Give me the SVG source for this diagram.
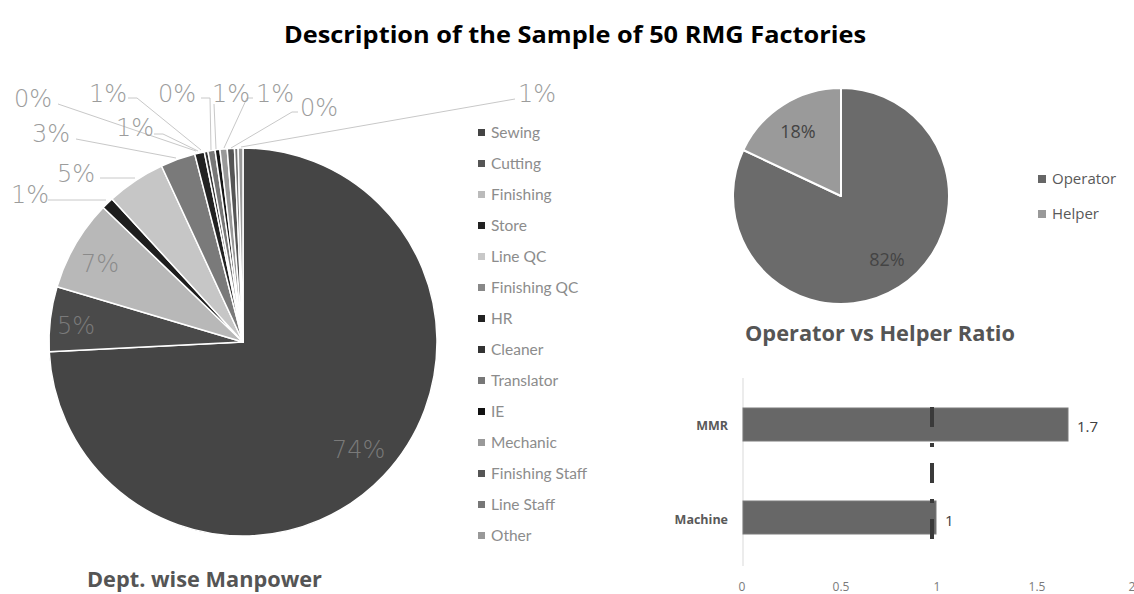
<svg xmlns="http://www.w3.org/2000/svg" width="1134" height="594" viewBox="0 0 1134 594">
<style>
.title{font-family:"Open Sans","Noto Sans",sans-serif;font-weight:700;}
.sl{stroke:#fff;stroke-width:1.5;stroke-linejoin:round;}
.pl{font-family:"DejaVu Sans","Liberation Sans",sans-serif;font-weight:200;font-size:24px;fill:#9c9c9c;}
.lead{fill:none;stroke:#c8c8c8;stroke-width:1;}
.lg{font-family:Lato,"Liberation Sans",sans-serif;font-size:15.5px;fill:#8c8c8c;}
.lg2{font-family:"Open Sans","Noto Sans",sans-serif;font-size:15px;fill:#595959;}
.ax{font-family:"Open Sans","Noto Sans",sans-serif;font-size:12px;fill:#7a7a7a;text-anchor:middle;}
.cat{font-family:"Open Sans","Noto Sans",sans-serif;font-size:12.5px;font-weight:700;fill:#595959;text-anchor:end;}
.val{font-family:"Open Sans","Noto Sans",sans-serif;font-size:15px;fill:#404040;}
</style>
<rect width="1134" height="594" fill="#fff"/>
<text class="title" x="284" y="43" font-size="23" fill="#000" textLength="582" lengthAdjust="spacingAndGlyphs">Description of the Sample of 50 RMG Factories</text>

<g id="dept-pie">
<path class="sl" fill="#454545" d="M243,342 L243,148 A194,194 0 1 1 49.24,351.75 Z"/>
<path class="sl" fill="#4a4a4a" d="M243,342 L49.24,351.75 A194,194 0 0 1 57.05,286.71 Z"/>
<path class="sl" fill="#b8b8b8" d="M243,342 L57.05,286.71 A194,194 0 0 1 103.21,207.48 Z"/>
<path class="sl" fill="#1e1e1e" d="M243,342 L103.21,207.48 A194,194 0 0 1 112.01,198.90 Z"/>
<path class="sl" fill="#c6c6c6" d="M243,342 L112.01,198.90 A194,194 0 0 1 161.50,165.95 Z"/>
<path class="sl" fill="#7a7a7a" d="M243,342 L161.50,165.95 A194,194 0 0 1 194.75,154.10 Z"/>
<path class="sl" fill="#222" d="M243,342 L194.75,154.10 A194,194 0 0 1 204.26,151.91 Z"/>
<path class="sl" fill="#333" d="M243,342 L204.26,151.91 A194,194 0 0 1 207.85,151.21 Z"/>
<path class="sl" fill="#777" d="M243,342 L207.85,151.21 A194,194 0 0 1 215.06,150.02 Z"/>
<path class="sl" fill="#151515" d="M243,342 L215.06,150.02 A194,194 0 0 1 219.89,149.38 Z"/>
<path class="sl" fill="#999" d="M243,342 L219.89,149.38 A194,194 0 0 1 227.17,148.65 Z"/>
<path class="sl" fill="#555" d="M243,342 L227.17,148.65 A194,194 0 0 1 234.47,148.19 Z"/>
<path class="sl" fill="#777" d="M243,342 L234.47,148.19 A194,194 0 0 1 238.12,148.06 Z"/>
<path class="sl" fill="#999" d="M243,342 L238.12,148.06 A194,194 0 0 1 243,148 Z"/>
</g>

<g id="connectors">
<polyline class="lead" points="58,104 196,151"/>
<polyline class="lead" points="128,98 137,98 201,150"/>
<polyline class="lead" points="154,134 163,134 198,151"/>
<polyline class="lead" points="76,139 176,158"/>
<polyline class="lead" points="100,178 135,178"/>
<polyline class="lead" points="48,200 106,200"/>
<polyline class="lead" points="201,98 210,98 211,150"/>
<polyline class="lead" points="214,104 216,149"/>
<polyline class="lead" points="253,98 247,98 224,148"/>
<polyline class="lead" points="298,112 292,112 231,148"/>
<polyline class="lead" points="515,99 241,147"/>
</g>

<g id="dept-labels">
<text class="pl" x="14" y="107">0%</text>
<text class="pl" x="89" y="102">1%</text>
<text class="pl" x="158" y="102">0%</text>
<text class="pl" x="212" y="102">1%</text>
<text class="pl" x="256" y="102">1%</text>
<text class="pl" x="300" y="116">0%</text>
<text class="pl" x="518" y="102">1%</text>
<text class="pl" x="32" y="142">3%</text>
<text class="pl" x="116" y="136">1%</text>
<text class="pl" x="57" y="182">5%</text>
<text class="pl" x="11" y="203">1%</text>
<text class="pl" x="57" y="334" style="fill:#7a7a7a">5%</text>
<text class="pl" x="81" y="272" style="fill:#8a8a8a">7%</text>
<text class="pl" x="332" y="458" style="fill:#7a7a7a">74%</text>
</g>

<g id="dept-legend">
<rect x="478" y="129" width="7" height="7" fill="#444"/><text class="lg" x="491" y="138">Sewing</text>
<rect x="478" y="160" width="7" height="7" fill="#555"/><text class="lg" x="491" y="169">Cutting</text>
<rect x="478" y="191" width="7" height="7" fill="#bbb"/><text class="lg" x="491" y="200">Finishing</text>
<rect x="478" y="222" width="7" height="7" fill="#222"/><text class="lg" x="491" y="231">Store</text>
<rect x="478" y="253" width="7" height="7" fill="#c8c8c8"/><text class="lg" x="491" y="262">Line QC</text>
<rect x="478" y="284" width="7" height="7" fill="#888"/><text class="lg" x="491" y="293">Finishing QC</text>
<rect x="478" y="315" width="7" height="7" fill="#222"/><text class="lg" x="491" y="324">HR</text>
<rect x="478" y="346" width="7" height="7" fill="#333"/><text class="lg" x="491" y="355">Cleaner</text>
<rect x="478" y="377" width="7" height="7" fill="#777"/><text class="lg" x="491" y="386">Translator</text>
<rect x="478" y="408" width="7" height="7" fill="#111"/><text class="lg" x="491" y="417">IE</text>
<rect x="478" y="439" width="7" height="7" fill="#999"/><text class="lg" x="491" y="448">Mechanic</text>
<rect x="478" y="470" width="7" height="7" fill="#555"/><text class="lg" x="491" y="479">Finishing Staff</text>
<rect x="478" y="501" width="7" height="7" fill="#777"/><text class="lg" x="491" y="510">Line Staff</text>
<rect x="478" y="532" width="7" height="7" fill="#999"/><text class="lg" x="491" y="541">Other</text>
</g>
<text class="title" x="87" y="587" font-size="21" fill="#555" textLength="235" lengthAdjust="spacingAndGlyphs">Dept. wise Manpower</text>

<g id="ratio-pie">
<path d="M841,196 L841,88 A108,108 0 1 1 743.28,150.02 Z" fill="#6b6b6b" stroke="#fff" stroke-width="2" stroke-linejoin="round"/>
<path d="M841,196 L743.28,150.02 A108,108 0 0 1 841,88 Z" fill="#9a9a9a" stroke="#fff" stroke-width="2" stroke-linejoin="round"/>
<text x="798" y="138" font-family="'Open Sans','Noto Sans',sans-serif" font-size="18" fill="#444" text-anchor="middle">18%</text>
<text x="887" y="266" font-family="'Open Sans','Noto Sans',sans-serif" font-size="18" fill="#444" text-anchor="middle">82%</text>
</g>
<g id="ratio-legend">
<rect x="1038" y="175" width="8" height="8" fill="#666"/><text class="lg2" x="1052" y="184">Operator</text>
<rect x="1038" y="210" width="8" height="8" fill="#999"/><text class="lg2" x="1052" y="219">Helper</text>
</g>
<text class="title" x="745" y="341" font-size="21" fill="#555" textLength="270" lengthAdjust="spacingAndGlyphs">Operator vs Helper Ratio</text>

<g id="bar-chart">
<line x1="743" y1="378" x2="743" y2="566" stroke="#d9d9d9" stroke-width="1"/>
<rect id="bar-mmr" x="743" y="408" width="325" height="33" fill="#676767" stroke="#7a7a7a" stroke-width="1"/>
<rect id="bar-machine" x="743" y="501" width="193" height="33" fill="#676767" stroke="#7a7a7a" stroke-width="1"/>
<text class="cat" x="728" y="430">MMR</text>
<text class="cat" x="728" y="524">Machine</text>
<text class="val" x="1077" y="432">1.7</text>
<text class="val" x="945" y="526">1</text>
<text class="ax" x="742" y="591">0</text>
<text class="ax" x="841" y="591">0.5</text>
<text class="ax" x="937" y="591">1</text>
<text class="ax" x="1037" y="591">1.5</text>
<text class="ax" x="1132" y="591">2</text>
</g>
<g id="connectors-ref">
<line x1="932" y1="407" x2="932" y2="540" stroke="#3a3a3a" stroke-width="4" stroke-dasharray="20 16 4 16"/>
</g>
</svg>
